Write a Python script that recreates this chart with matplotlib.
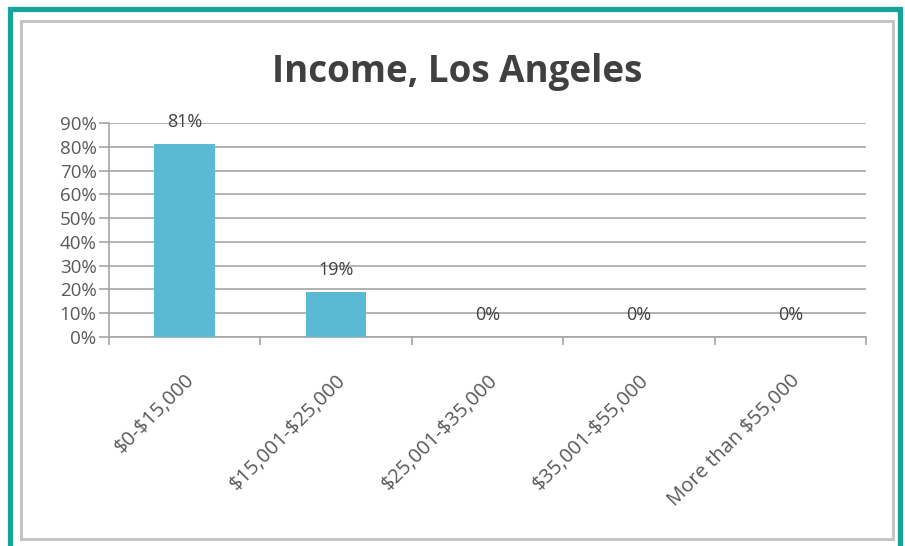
import matplotlib.pyplot as plt
from matplotlib.patches import Rectangle
from matplotlib.ticker import FuncFormatter, FixedLocator

categories = ["$0-$15,000", "$15,001-$25,000", "$25,001-$35,000", "$35,001-$55,000", "More than $55,000"]
shares = [0.81, 0.19, 0.0, 0.0, 0.0]
share_labels = ["81%", "19%", "0%", "0%", "0%"]
y_ticks = [0.0, 0.1, 0.2, 0.3, 0.4, 0.5, 0.6, 0.7, 0.8, 0.9]

plt.rcParams['font.family'] = ['Open Sans', 'DejaVu Sans']
plt.rcParams['text.parse_math'] = False  # keep the dollar signs literal

W, H = 905, 546
fig = plt.figure(figsize=(W / 100, H / 100), dpi=100)
fig.patch.set_facecolor("white")

# frames: teal outer, gray inner
fig.add_artist(Rectangle((10 / W, 0 - 0.01), 890 / W, 1 - 9 / H + 0.01, transform=fig.transFigure,
                         fill=False, edgecolor="#17a398", linewidth=3.8))
fig.add_artist(Rectangle((21 / W, 1 - 539 / H), 872 / W, 518 / H, transform=fig.transFigure,
                         fill=False, edgecolor="#c4c4c4", linewidth=2.2))

ax = fig.add_axes([109 / W, 1 - 337 / H, 757 / W, 214 / H])
x = list(range(len(categories)))
ax.bar(x, shares, width=0.4, color="#5ab9d4", zorder=3)

ax.set_xlim(-0.5, len(categories) - 0.5)
ax.set_ylim(0, 0.9)
ax.yaxis.set_major_locator(FixedLocator(y_ticks))
ax.yaxis.set_major_formatter(FuncFormatter(lambda v, p: f"{v * 100:.0f}%"))
ax.grid(axis="y", color="#a6a6a6", linewidth=1.2, zorder=0)

for s in ["top", "right"]:
    ax.spines[s].set_visible(False)
for s in ["left", "bottom"]:
    ax.spines[s].set_color("#a6a6a6")
    ax.spines[s].set_linewidth(1.2)

# x ticks at category boundaries, labels at centres
ax.set_xticks([i - 0.5 for i in range(len(categories) + 1)])
ax.set_xticklabels([])
ax.set_xticks(x, minor=True)
ax.set_xticklabels(categories, minor=True, rotation=45, ha="right", va="top",
                   rotation_mode="anchor", fontsize=14.5, color="#595959")
ax.tick_params(axis="x", which="major", length=6, color="#a6a6a6", width=1.2)
ax.tick_params(axis="x", which="minor", length=0, pad=24)
ax.tick_params(axis="y", length=7, color="#a6a6a6", width=1.2, labelsize=13.5, labelcolor="#595959", pad=2)

for xi, v, lab in zip(x, shares, share_labels):
    ax.annotate(lab, (xi, v), xytext=(0, 16), textcoords="offset points",
                ha="center", va="center", fontsize=13, color="#404040")

fig.text(457 / W, 1 - 72 / H, "Income, Los Angeles", ha="center", va="center",
         fontsize=26.5, fontweight="bold", color="#404040")

fig.savefig("out.png", dpi=100)
